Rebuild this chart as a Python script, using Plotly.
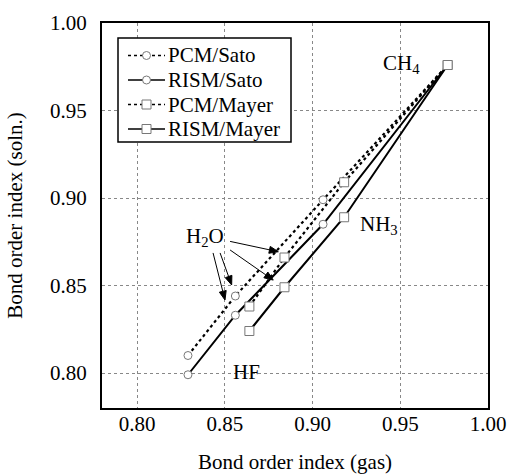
import math
import plotly.graph_objects as go

# bond order index: gas phase (x) vs solution (y), points ordered HF, H2O, NH3, CH4
sato_gas = [0.829, 0.856, 0.906, 0.977]
pcm_sato = [0.810, 0.844, 0.899, 0.976]
rism_sato = [0.799, 0.833, 0.885, 0.976]

mayer_gas = [0.864, 0.884, 0.918, 0.977]
pcm_mayer = [0.838, 0.866, 0.909, 0.976]
rism_mayer = [0.824, 0.849, 0.889, 0.976]

series_names = ["PCM/Sato", "RISM/Sato", "PCM/Mayer", "RISM/Mayer"]
tick_vals = [0.80, 0.85, 0.90, 0.95, 1.00]
axis_range = [0.78, 1.00]

font_name = "Liberation Serif"

# body margin is removed in the page (see post_script), so page px == figure px
W, H = 508, 474
ML, MR, MT, MB = 102, 20, 23, 66
PW, PH = W - ML - MR, H - MT - MB
SX = PW / (axis_range[1] - axis_range[0])
SY = PH / (axis_range[1] - axis_range[0])


def px(x, y):
    # page pixel -> paper coords
    return (x - ML) / PW, (MT + PH - y) / PH


fig = go.Figure()

styles = [("dot", "circle"), ("solid", "circle"), ("dot", "square"), ("solid", "square")]
xs_all = [sato_gas, sato_gas, mayer_gas, mayer_gas]
ys_all = [pcm_sato, rism_sato, pcm_mayer, rism_mayer]

for name, xs, ys, (dash, sym) in zip(series_names, xs_all, ys_all, styles):
    fig.add_trace(go.Scatter(
        x=xs, y=ys, name=name, showlegend=False,
        mode="lines+markers",
        line=dict(color="black", width=2.2 if dash == "dot" else 2, dash=dash),
        marker=dict(symbol=sym, size=9 if sym == "square" else 8,
                    color="white", line=dict(color="#777777", width=1)),
    ))

# legend drawn by hand so its rows can be packed tightly
x0, y0 = px(118, 38)
x1, y1 = px(291, 142)
fig.add_shape(type="rect", xref="paper", yref="paper", x0=x0, y0=y0, x1=x1, y1=y1,
              line=dict(color="black", width=1.5), fillcolor="white", layer="above")
row_y = [55.5, 80, 104.5, 129]
for name, (dash, sym), ry in zip(series_names, styles, row_y):
    lx0, ly = px(128, ry)
    lx1, _ = px(165, ry)
    fig.add_shape(type="line", xref="paper", yref="paper", x0=lx0, y0=ly, x1=lx1, y1=ly,
                  line=dict(color="black", width=1.5, dash=dash), layer="above")
    r = 4 if sym == "circle" else 4.5
    mx0, my0 = px(146.5 - r, ry + r)
    mx1, my1 = px(146.5 + r, ry - r)
    fig.add_shape(type="circle" if sym == "circle" else "rect", xref="paper", yref="paper",
                  x0=mx0, y0=my0, x1=mx1, y1=my1, fillcolor="white",
                  line=dict(color="#777777", width=1), layer="above")
    tx, _ = px(168, ry)
    fig.add_annotation(xref="paper", yref="paper", x=tx, y=ly, text=name,
                       showarrow=False, xanchor="left", yanchor="middle",
                       borderpad=0, borderwidth=0,
                       font=dict(family=font_name, size=21, color="black"))

# molecule labels
labels = [
    ("CH<sub>4</sub>", 0.9506, 0.9767),
    ("NH<sub>3</sub>", 0.9378, 0.8843),
    ("HF", 0.8621, 0.8008),
    ("H<sub>2</sub>O", 0.8386, 0.8777),
]
for txt, lx, ly in labels:
    fig.add_annotation(x=lx, y=ly, text=txt, showarrow=False,
                       font=dict(family=font_name, size=21, color="black"))

# arrows from the H2O label to the H2O points (tail -> tip), drawn as shapes
arrows = [
    (0.853, 0.8752, 0.8805, 0.8693),
    (0.853, 0.8703, 0.8776, 0.8531),
    (0.8473, 0.8686, 0.8539, 0.8503),
    (0.8433, 0.8686, 0.8501, 0.8417),
]
for tx, ty, hx, hy in arrows:
    dx, dy = (hx - tx) * SX, (hy - ty) * SY
    L = math.hypot(dx, dy)
    ux, uy = dx / L, dy / L
    bx, by = hx - 9 * ux / SX, hy - 9 * uy / SY
    p1 = (bx - 3.5 * uy / SX, by + 3.5 * ux / SY)
    p2 = (bx + 3.5 * uy / SX, by - 3.5 * ux / SY)
    fig.add_shape(type="line", xref="x", yref="y", x0=tx, y0=ty, x1=bx, y1=by,
                  line=dict(color="black", width=1), layer="above")
    fig.add_shape(type="path", xref="x", yref="y",
                  path=f"M {hx} {hy} L {p1[0]} {p1[1]} L {p2[0]} {p2[1]} Z",
                  fillcolor="black", line=dict(color="black", width=1), layer="above")

axis_style = dict(
    range=axis_range,
    tickvals=tick_vals,
    tickformat=".2f",
    automargin=False,
    showline=True, mirror=True, linecolor="black", linewidth=2,
    showgrid=True, gridcolor="#888888", gridwidth=1, griddash="dot",
    zeroline=False, ticks="",
    tickfont=dict(family=font_name, size=21, color="black"),
)

fig.update_xaxes(**axis_style, ticklabelstandoff=-4,
                 title=dict(text="Bond order index (gas)", standoff=20,
                            font=dict(family=font_name, size=21, color="black")))
fig.update_yaxes(**axis_style, ticklabelstandoff=9,
                 title=dict(text="Bond order index (soln.)", standoff=22,
                            font=dict(family=font_name, size=21, color="black")))

fig.update_layout(
    width=W, height=H,
    margin=dict(l=ML, r=MR, t=MT, b=MB),
    paper_bgcolor="white", plot_bgcolor="white",
    font=dict(family=font_name, size=21, color="black"),
    showlegend=False,
)

fig.write_html(
    "out.html",
    config={"displayModeBar": False},
    post_script="document.body.style.margin='0';"
                "document.documentElement.style.overflow='hidden';"
                "document.body.style.overflow='hidden';",
)
